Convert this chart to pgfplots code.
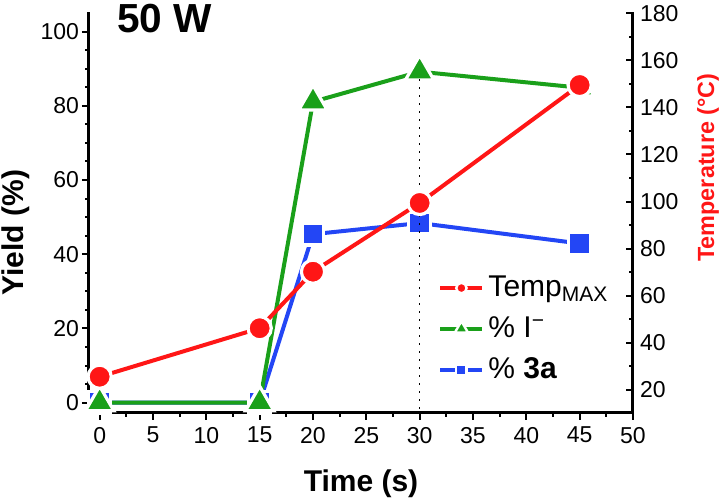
\documentclass[border=0pt]{standalone}
\usepackage{fontspec}
\setmainfont{Liberation Sans}
\usepackage{pgfplots}
\pgfplotsset{compat=1.18}
\definecolor{cred}{RGB}{255,22,22}
\definecolor{cgreen}{RGB}{26,160,26}
\definecolor{cblue}{RGB}{35,70,245}
\pgfplotsset{
  common/.style={
    at={(0,0)}, anchor=south west, scale only axis,
    width=272pt, height=200.5pt,
    xmin=-1, xmax=50,
    axis line style={line width=1.5pt},
    x axis line style={-}, y axis line style={-},
    major tick length=3.5pt, minor tick length=1.8pt,
    every tick/.style={black, line width=1pt},
    tick label style={font=\fontsize{11.5}{13}\selectfont},
    /pgf/number format/assume math mode=true,
    clip=false,
  },
}
\begin{document}
\begin{tikzpicture}
\begin{axis}[common,
  ymin=-2.8, ymax=105.3,
  axis x line*=bottom, axis y line*=left,
  xtick={0,5,...,50}, ytick={0,20,...,100},
  minor x tick num=1, minor y tick num=3,
  tick align=outside,
  yticklabel style={xshift=2pt},
  xlabel={Time (s)}, ylabel={Yield (\%)},
  label style={font=\fontsize{15}{18}\selectfont\bfseries},
  x label style={at={(axis description cs:0.5,-0.196)}, anchor=base},
  y label style={at={(axis description cs:-0.12,0.45)}, anchor=base},
]
\addplot[cblue, line width=2pt, mark=square*, mark size=5.4pt,
  mark options={fill=cblue, draw=white, line width=1.6pt}]
  coordinates {(0,0) (15,0) (20,45.4) (30,48.4) (45,42.9)};
\addplot[cgreen, line width=2pt, mark=triangle*, mark size=8.2pt,
  mark options={fill=cgreen, draw=white, line width=1.6pt}]
  coordinates {(0,0) (15,0) (20,81.1) (30,89.2) (45,84.9)};
\node[anchor=base west, inner sep=0pt, font=\fontsize{20.3}{24}\selectfont\bfseries]
  at (axis description cs:0.0515,0.9476) {50 W};
\end{axis}
\begin{axis}[common,
  ymin=10.2, ymax=180.5,
  axis x line=none, axis y line*=right,
  ytick={20,40,...,180}, minor y tick num=1,
  tick align=inside,
  ylabel={Temperature (°C)},
  y label style={font=\fontsize{11.7}{14}\selectfont\bfseries, text=cred,
    at={(axis description cs:1.149,0.612)}, anchor=base},
  legend style={draw=none, fill=none, inner sep=0pt,
    at={(axis description cs:0.6415,0.352)}, anchor=north west,
    font=\fontsize{15}{18}\selectfont, row sep=4.5pt,
    cells={anchor=west}},
  legend image code/.code={\draw[mark repeat=2,mark phase=2,#1]
    plot coordinates {(0cm,0cm) (0.37cm,0cm) (0.74cm,0cm)};},
]
\addplot[forget plot, cred, line width=2pt, mark=*, mark size=5.8pt,
  mark options={fill=cred, draw=white, line width=1.6pt}]
  coordinates {(0,25.6) (15,46.2) (20,70.2) (30,99.4) (45,149.5)};
\addlegendimage{cred, line width=2pt, mark=*, mark size=2.6pt,
  mark options={fill=cred, draw=white, line width=1.2pt}}
\addlegendentry{Temp\textsubscript{MAX}}
\addlegendimage{cgreen, line width=2pt, mark=triangle*, mark size=3.8pt,
  mark options={fill=cgreen, draw=white, line width=1.2pt}}
\addlegendentry{\% I\textsuperscript{−}}
\addlegendimage{cblue, line width=2pt, mark=square*, mark size=2.6pt,
  mark options={fill=cblue, draw=white, line width=1.2pt}}
\addlegendentry{\% \textbf{3a}}
\addplot[forget plot, black, line width=0.8pt, dash pattern=on 0.8pt off 3.2pt]
  coordinates {(30,11.9) (30,153.7)};
\end{axis}
\pgfresetboundingbox
\useasboundingbox (-44.5pt,-44pt) rectangle (317pt,206.5pt);
\end{tikzpicture}
\end{document}
